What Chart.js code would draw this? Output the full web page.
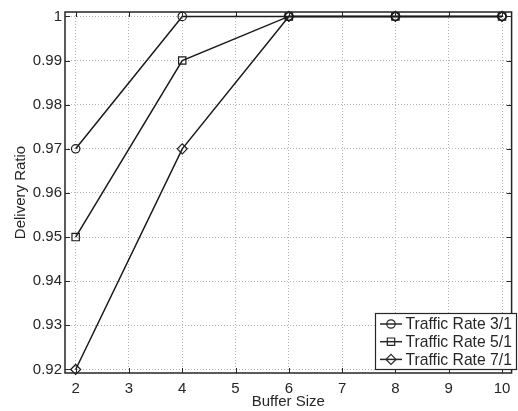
<!DOCTYPE html>
<html>
<head>
<meta charset="utf-8">
<script src="https://cdn.jsdelivr.net/npm/chart.js@4.4.0/dist/chart.umd.min.js"></script>
<style>
    html, body { margin: 0; padding: 0; background: #fff; }
    #grafico { display: block; }
</style>
</head>
<body>
<canvas id="grafico" width="518" height="411"></canvas>
<script>
// dados
const bufferSizes = [2, 4, 6, 8, 10];
const taxa31 = [0.97, 1, 1, 1, 1];
const taxa51 = [0.95, 0.99, 1, 1, 1];
const taxa71 = [0.92, 0.97, 1, 1, 1];
const nomes = ['Traffic Rate 3/1', 'Traffic Rate 5/1', 'Traffic Rate 7/1'];

const xTicks = [2, 3, 4, 5, 6, 7, 8, 9, 10];
const yTicks = [0.92, 0.93, 0.94, 0.95, 0.96, 0.97, 0.98, 0.99, 1];
const yLabels = ['0.92', '0.93', '0.94', '0.95', '0.96', '0.97', '0.98', '0.99', '1'];

const fonte = "'Liberation Sans', Arial, Helvetica, sans-serif";
const corTexto = '#262626';

function pontos(ys) {
    return bufferSizes.map((x, i) => ({ x: x, y: ys[i] }));
}

// moldura com marcas de escala para dentro (estilo matlab)
const molduraPlugin = {
    id: 'moldura',
    afterDraw(chart) {
        const { ctx, chartArea: a, scales } = chart;
        ctx.save();
        ctx.strokeStyle = '#262626';
        ctx.lineWidth = 1.5;
        ctx.strokeRect(a.left, a.top, a.right - a.left, a.bottom - a.top);
        ctx.lineWidth = 1;
        const tam = 5;
        ctx.beginPath();
        xTicks.forEach(v => {
            const px = Math.round(scales.x.getPixelForValue(v)) + 0.5;
            ctx.moveTo(px, a.bottom); ctx.lineTo(px, a.bottom - tam);
            ctx.moveTo(px, a.top); ctx.lineTo(px, a.top + tam);
        });
        yTicks.forEach(v => {
            const py = Math.round(scales.y.getPixelForValue(v)) + 0.5;
            ctx.moveTo(a.left, py); ctx.lineTo(a.left + tam, py);
            ctx.moveTo(a.right, py); ctx.lineTo(a.right - tam, py);
        });
        ctx.stroke();

        // legenda dentro da área do gráfico
        const caixa = { left: 375.5, top: 313.5, right: 516.5, bottom: 369.5 };
        ctx.fillStyle = '#fff';
        ctx.fillRect(caixa.left, caixa.top, caixa.right - caixa.left, caixa.bottom - caixa.top);
        ctx.strokeStyle = '#262626';
        ctx.lineWidth = 1.2;
        ctx.strokeRect(caixa.left, caixa.top, caixa.right - caixa.left, caixa.bottom - caixa.top);
        ctx.font = '15.7px ' + fonte;
        ctx.textBaseline = 'middle';
        ctx.textAlign = 'left';
        chart.data.datasets.forEach((ds, i) => {
            const y = 324 + i * 17.7;
            ctx.strokeStyle = '#262626';
            ctx.lineWidth = 1.5;
            ctx.beginPath();
            ctx.moveTo(380, y); ctx.lineTo(402, y);
            ctx.stroke();
            ctx.fillStyle = 'rgba(0,0,0,0)';
            ctx.lineWidth = ds.pointBorderWidth;
            Chart.helpers.drawPoint(ctx, {
                pointStyle: ds.pointStyle,
                radius: ds.pointRadius,
                borderWidth: ds.pointBorderWidth,
                rotation: 0
            }, 391, y);
            ctx.fillStyle = corTexto;
            ctx.fillText(ds.label, 405.5, y + 1);
        });
        ctx.restore();
    }
};

function serie(label, ys, estilo, raio) {
    return {
        label: label,
        data: pontos(ys),
        borderColor: '#1a1a1a',
        borderWidth: 1.5,
        pointStyle: estilo,
        pointRadius: raio,
        pointHoverRadius: raio,
        pointBorderWidth: 1.2,
        pointBorderColor: '#1a1a1a',
        pointBackgroundColor: 'rgba(0,0,0,0)',
        tension: 0,
        clip: false
    };
}

const ctx = document.getElementById('grafico').getContext('2d');
window.grafico = new Chart(ctx, {
    type: 'line',
    data: {
        datasets: [
            serie(nomes[0], taxa31, 'circle', 4.2),
            serie(nomes[1], taxa51, 'rect', 5.2),
            serie(nomes[2], taxa71, 'rectRot', 5)
        ]
    },
    options: {
        responsive: false,
        animation: false,
        events: [],
        layout: { padding: { top: 11, right: 1, left: 0, bottom: 0 } },
        plugins: {
            legend: { display: false },
            tooltip: { enabled: false }
        },
        scales: {
            x: {
                type: 'linear',
                min: 1.8,
                max: 10.18,
                afterBuildTicks: (s) => { s.ticks = xTicks.map(v => ({ value: v })); },
                afterFit: (s) => { s.height = 38; },
                grid: { color: '#b5b5b5', lineWidth: 1, drawTicks: false },
                border: { display: false, dash: [1, 2] },
                ticks: {
                    padding: 7,
                    color: corTexto,
                    font: { family: fonte, size: 15 },
                    maxRotation: 0,
                    callback: (v) => String(v)
                },
                title: {
                    display: true,
                    text: 'Buffer Size',
                    color: corTexto,
                    font: { family: fonte, size: 15 },
                    padding: { top: 0, bottom: 0 }
                }
            },
            y: {
                type: 'linear',
                min: 0.9192,
                max: 1.001,
                afterBuildTicks: (s) => { s.ticks = yTicks.map(v => ({ value: v })); },
                afterFit: (s) => { s.width = 65; },
                grid: { color: '#b5b5b5', lineWidth: 1, drawTicks: false },
                border: { display: false, dash: [1, 2] },
                ticks: {
                    padding: 3,
                    color: corTexto,
                    font: { family: fonte, size: 15 },
                    callback: (v) => yLabels[yTicks.indexOf(v)]
                },
                title: {
                    display: true,
                    text: 'Delivery Ratio',
                    color: corTexto,
                    font: { family: fonte, size: 15 },
                    padding: { top: 12, bottom: 0 }
                }
            }
        }
    },
    plugins: [molduraPlugin]
});
</script>
</body>
</html>
